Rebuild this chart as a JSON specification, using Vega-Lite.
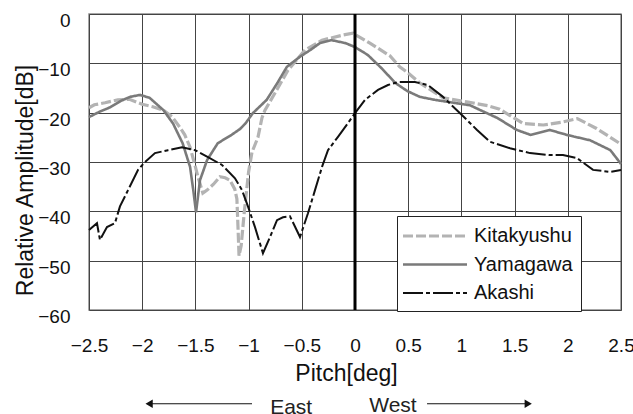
{
  "$schema": "https://vega.github.io/schema/vega-lite/v6.json",
  "width": 532,
  "height": 296,
  "autosize": "none",
  "padding": {"left": 89, "top": 14, "right": 12, "bottom": 104},
  "background": "white",
  "layer": [
    {
      "data": {
        "values": [
          {"site": "Kitakyushu", "pitch": -2.5, "amp": -19.0},
          {"site": "Kitakyushu", "pitch": -2.45, "amp": -18.4},
          {"site": "Kitakyushu", "pitch": -2.35, "amp": -18.0},
          {"site": "Kitakyushu", "pitch": -2.23, "amp": -17.4},
          {"site": "Kitakyushu", "pitch": -2.12, "amp": -17.3},
          {"site": "Kitakyushu", "pitch": -2.0, "amp": -18.3},
          {"site": "Kitakyushu", "pitch": -1.9, "amp": -18.8},
          {"site": "Kitakyushu", "pitch": -1.8, "amp": -19.5},
          {"site": "Kitakyushu", "pitch": -1.72, "amp": -20.8},
          {"site": "Kitakyushu", "pitch": -1.645, "amp": -23.0},
          {"site": "Kitakyushu", "pitch": -1.6, "amp": -24.5},
          {"site": "Kitakyushu", "pitch": -1.55, "amp": -27.0},
          {"site": "Kitakyushu", "pitch": -1.5, "amp": -31.0},
          {"site": "Kitakyushu", "pitch": -1.476, "amp": -33.0},
          {"site": "Kitakyushu", "pitch": -1.43, "amp": -36.3},
          {"site": "Kitakyushu", "pitch": -1.39, "amp": -35.7},
          {"site": "Kitakyushu", "pitch": -1.33, "amp": -34.5},
          {"site": "Kitakyushu", "pitch": -1.27, "amp": -33.0},
          {"site": "Kitakyushu", "pitch": -1.22, "amp": -33.2},
          {"site": "Kitakyushu", "pitch": -1.175, "amp": -33.7},
          {"site": "Kitakyushu", "pitch": -1.13, "amp": -35.5},
          {"site": "Kitakyushu", "pitch": -1.11, "amp": -37.5},
          {"site": "Kitakyushu", "pitch": -1.1, "amp": -43.0},
          {"site": "Kitakyushu", "pitch": -1.09, "amp": -49.0},
          {"site": "Kitakyushu", "pitch": -1.07, "amp": -47.0},
          {"site": "Kitakyushu", "pitch": -1.04, "amp": -40.0},
          {"site": "Kitakyushu", "pitch": -1.0, "amp": -32.0},
          {"site": "Kitakyushu", "pitch": -0.968, "amp": -28.0},
          {"site": "Kitakyushu", "pitch": -0.912, "amp": -25.0},
          {"site": "Kitakyushu", "pitch": -0.874, "amp": -21.0},
          {"site": "Kitakyushu", "pitch": -0.846, "amp": -19.5},
          {"site": "Kitakyushu", "pitch": -0.752, "amp": -16.0},
          {"site": "Kitakyushu", "pitch": -0.63, "amp": -11.4},
          {"site": "Kitakyushu", "pitch": -0.47, "amp": -7.3},
          {"site": "Kitakyushu", "pitch": -0.31, "amp": -5.3},
          {"site": "Kitakyushu", "pitch": -0.12, "amp": -4.3},
          {"site": "Kitakyushu", "pitch": -0.02, "amp": -3.9},
          {"site": "Kitakyushu", "pitch": 0.14, "amp": -5.9},
          {"site": "Kitakyushu", "pitch": 0.33, "amp": -8.5},
          {"site": "Kitakyushu", "pitch": 0.42, "amp": -10.7},
          {"site": "Kitakyushu", "pitch": 0.49, "amp": -11.8},
          {"site": "Kitakyushu", "pitch": 0.61, "amp": -14.0},
          {"site": "Kitakyushu", "pitch": 0.83, "amp": -17.0},
          {"site": "Kitakyushu", "pitch": 1.05, "amp": -17.8},
          {"site": "Kitakyushu", "pitch": 1.25, "amp": -18.6},
          {"site": "Kitakyushu", "pitch": 1.36, "amp": -19.3},
          {"site": "Kitakyushu", "pitch": 1.58, "amp": -22.2},
          {"site": "Kitakyushu", "pitch": 1.77, "amp": -22.5},
          {"site": "Kitakyushu", "pitch": 1.95, "amp": -21.9},
          {"site": "Kitakyushu", "pitch": 2.09, "amp": -21.2},
          {"site": "Kitakyushu", "pitch": 2.27, "amp": -23.2},
          {"site": "Kitakyushu", "pitch": 2.5, "amp": -26.4},

          {"site": "Yamagawa", "pitch": -2.5, "amp": -20.9},
          {"site": "Yamagawa", "pitch": -2.4, "amp": -19.8},
          {"site": "Yamagawa", "pitch": -2.3, "amp": -18.9},
          {"site": "Yamagawa", "pitch": -2.2, "amp": -17.6},
          {"site": "Yamagawa", "pitch": -2.115, "amp": -16.8},
          {"site": "Yamagawa", "pitch": -2.02, "amp": -16.4},
          {"site": "Yamagawa", "pitch": -1.93, "amp": -17.0},
          {"site": "Yamagawa", "pitch": -1.8, "amp": -19.5},
          {"site": "Yamagawa", "pitch": -1.71, "amp": -22.2},
          {"site": "Yamagawa", "pitch": -1.62, "amp": -26.2},
          {"site": "Yamagawa", "pitch": -1.55, "amp": -31.0},
          {"site": "Yamagawa", "pitch": -1.52, "amp": -35.7},
          {"site": "Yamagawa", "pitch": -1.494, "amp": -40.2},
          {"site": "Yamagawa", "pitch": -1.457, "amp": -33.7},
          {"site": "Yamagawa", "pitch": -1.39, "amp": -29.6},
          {"site": "Yamagawa", "pitch": -1.29, "amp": -26.2},
          {"site": "Yamagawa", "pitch": -1.16, "amp": -24.5},
          {"site": "Yamagawa", "pitch": -1.08, "amp": -23.3},
          {"site": "Yamagawa", "pitch": -1.03, "amp": -22.2},
          {"site": "Yamagawa", "pitch": -0.96, "amp": -20.1},
          {"site": "Yamagawa", "pitch": -0.83, "amp": -17.4},
          {"site": "Yamagawa", "pitch": -0.73, "amp": -14.0},
          {"site": "Yamagawa", "pitch": -0.64, "amp": -10.7},
          {"site": "Yamagawa", "pitch": -0.52, "amp": -8.7},
          {"site": "Yamagawa", "pitch": -0.42, "amp": -7.3},
          {"site": "Yamagawa", "pitch": -0.33, "amp": -5.9},
          {"site": "Yamagawa", "pitch": -0.22, "amp": -5.3},
          {"site": "Yamagawa", "pitch": -0.09, "amp": -5.9},
          {"site": "Yamagawa", "pitch": 0.0, "amp": -6.7},
          {"site": "Yamagawa", "pitch": 0.12, "amp": -8.3},
          {"site": "Yamagawa", "pitch": 0.25, "amp": -11.0},
          {"site": "Yamagawa", "pitch": 0.38, "amp": -14.0},
          {"site": "Yamagawa", "pitch": 0.49, "amp": -15.6},
          {"site": "Yamagawa", "pitch": 0.61, "amp": -16.8},
          {"site": "Yamagawa", "pitch": 0.75, "amp": -17.4},
          {"site": "Yamagawa", "pitch": 1.08, "amp": -18.5},
          {"site": "Yamagawa", "pitch": 1.34, "amp": -21.1},
          {"site": "Yamagawa", "pitch": 1.52, "amp": -23.5},
          {"site": "Yamagawa", "pitch": 1.65, "amp": -24.5},
          {"site": "Yamagawa", "pitch": 1.83, "amp": -23.5},
          {"site": "Yamagawa", "pitch": 1.99, "amp": -24.5},
          {"site": "Yamagawa", "pitch": 2.21, "amp": -25.6},
          {"site": "Yamagawa", "pitch": 2.4, "amp": -27.6},
          {"site": "Yamagawa", "pitch": 2.5, "amp": -30.4},

          {"site": "Akashi", "pitch": -2.5, "amp": -43.8},
          {"site": "Akashi", "pitch": -2.425, "amp": -42.4},
          {"site": "Akashi", "pitch": -2.397, "amp": -45.8},
          {"site": "Akashi", "pitch": -2.331, "amp": -43.2},
          {"site": "Akashi", "pitch": -2.256, "amp": -42.4},
          {"site": "Akashi", "pitch": -2.209, "amp": -39.0},
          {"site": "Akashi", "pitch": -2.133, "amp": -35.7},
          {"site": "Akashi", "pitch": -2.039, "amp": -31.6},
          {"site": "Akashi", "pitch": -1.974, "amp": -30.0},
          {"site": "Akashi", "pitch": -1.88, "amp": -28.2},
          {"site": "Akashi", "pitch": -1.758, "amp": -27.6},
          {"site": "Akashi", "pitch": -1.626, "amp": -27.0},
          {"site": "Akashi", "pitch": -1.504, "amp": -27.6},
          {"site": "Akashi", "pitch": -1.382, "amp": -29.0},
          {"site": "Akashi", "pitch": -1.25, "amp": -30.6},
          {"site": "Akashi", "pitch": -1.128, "amp": -33.3},
          {"site": "Akashi", "pitch": -1.062, "amp": -35.7},
          {"site": "Akashi", "pitch": -1.006, "amp": -39.0},
          {"site": "Akashi", "pitch": -0.94, "amp": -43.2},
          {"site": "Akashi", "pitch": -0.865, "amp": -48.5},
          {"site": "Akashi", "pitch": -0.799, "amp": -45.2},
          {"site": "Akashi", "pitch": -0.733, "amp": -41.8},
          {"site": "Akashi", "pitch": -0.677, "amp": -41.2},
          {"site": "Akashi", "pitch": -0.611, "amp": -41.0},
          {"site": "Akashi", "pitch": -0.517, "amp": -45.2},
          {"site": "Akashi", "pitch": -0.442, "amp": -40.4},
          {"site": "Akashi", "pitch": -0.376, "amp": -35.7},
          {"site": "Akashi", "pitch": -0.31, "amp": -31.0},
          {"site": "Akashi", "pitch": -0.254, "amp": -27.6},
          {"site": "Akashi", "pitch": -0.16, "amp": -24.9},
          {"site": "Akashi", "pitch": -0.066, "amp": -22.1},
          {"site": "Akashi", "pitch": 0.0, "amp": -20.1},
          {"site": "Akashi", "pitch": 0.094, "amp": -17.4},
          {"site": "Akashi", "pitch": 0.216, "amp": -15.4},
          {"site": "Akashi", "pitch": 0.31, "amp": -14.4},
          {"site": "Akashi", "pitch": 0.404, "amp": -13.8},
          {"site": "Akashi", "pitch": 0.564, "amp": -13.8},
          {"site": "Akashi", "pitch": 0.686, "amp": -14.4},
          {"site": "Akashi", "pitch": 0.827, "amp": -16.8},
          {"site": "Akashi", "pitch": 0.987, "amp": -20.1},
          {"site": "Akashi", "pitch": 1.147, "amp": -23.5},
          {"site": "Akashi", "pitch": 1.269, "amp": -25.9},
          {"site": "Akashi", "pitch": 1.457, "amp": -27.2},
          {"site": "Akashi", "pitch": 1.645, "amp": -28.2},
          {"site": "Akashi", "pitch": 1.833, "amp": -28.6},
          {"site": "Akashi", "pitch": 1.955, "amp": -28.6},
          {"site": "Akashi", "pitch": 2.086, "amp": -29.2},
          {"site": "Akashi", "pitch": 2.237, "amp": -31.6},
          {"site": "Akashi", "pitch": 2.397, "amp": -32.0},
          {"site": "Akashi", "pitch": 2.5, "amp": -31.6}
        ]
      },
      "mark": {"type": "line", "interpolate": "linear", "strokeCap": "butt"},
      "encoding": {
        "x": {
          "field": "pitch",
          "type": "quantitative",
          "scale": {"domain": [-2.5, 2.5], "nice": false, "zero": false},
          "axis": {
            "title": "Pitch[deg]",
            "values": [-2.5, -2, -1.5, -1, -0.5, 0, 0.5, 1, 1.5, 2, 2.5],
            "format": "~g",
            "labelBaseline": "alphabetic",
            "labelPadding": 41,
            "labelFlush": false,
            "labelOverlap": false,
            "titleBaseline": "alphabetic",
            "titleX": 257,
            "titleY": 70
          }
        },
        "y": {
          "field": "amp",
          "type": "quantitative",
          "scale": {"domain": [-60, 0], "nice": false, "zero": false},
          "axis": {
            "title": "Relative Amplitude[dB]",
            "values": [-60, -50, -40, -30, -20, -10, 0],
            "format": "d",
            "labelBaseline": "alphabetic",
            "labelOffset": 12.5,
            "labelPadding": 19,
            "labelFlush": false,
            "labelOverlap": false,
            "titleBaseline": "alphabetic",
            "titleAngle": -90,
            "titleX": -57,
            "titleY": 166
          }
        },
        "color": {
          "field": "site",
          "type": "nominal",
          "scale": {"domain": ["Kitakyushu", "Yamagawa", "Akashi"], "range": ["#b3b3b3", "#7a7a7a", "#111111"]},
          "legend": {"title": null}
        },
        "strokeDash": {
          "field": "site",
          "type": "nominal",
          "scale": {"domain": ["Kitakyushu", "Yamagawa", "Akashi"], "range": [[10, 3], [1, 0], [20, 3, 4, 3]]},
          "legend": {"title": null}
        },
        "strokeWidth": {
          "field": "site",
          "type": "nominal",
          "scale": {"domain": ["Kitakyushu", "Yamagawa", "Akashi"], "range": [3.2, 2, 2.6]},
          "legend": {"title": null}
        }
      }
    },
    {
      "data": {"values": [{"pitch": 0}]},
      "mark": {"type": "rule", "color": "#000000", "strokeWidth": 3},
      "encoding": {"x": {"field": "pitch", "type": "quantitative"}}
    },
    {
      "data": {"values": [{}]},
      "mark": {"type": "rule", "color": "#111111", "strokeWidth": 1.2},
      "encoding": {"x": {"datum": -1.95}, "x2": {"datum": -0.968}, "y": {"datum": -79}}
    },
    {
      "data": {"values": [{}]},
      "mark": {"type": "rule", "color": "#111111", "strokeWidth": 1.2},
      "encoding": {"x": {"datum": 0.677}, "x2": {"datum": 1.64}, "y": {"datum": -79}}
    },
    {
      "data": {"values": [{}]},
      "mark": {"type": "point", "shape": "triangle-left", "filled": true, "color": "#111111", "opacity": 1, "size": 70},
      "encoding": {"x": {"datum": -1.935}, "y": {"datum": -79}}
    },
    {
      "data": {"values": [{}]},
      "mark": {"type": "point", "shape": "triangle-right", "filled": true, "color": "#111111", "opacity": 1, "size": 70},
      "encoding": {"x": {"datum": 1.628}, "y": {"datum": -79}}
    },
    {
      "data": {"values": [{}]},
      "mark": {"type": "text", "text": "East", "font": "Liberation Sans", "fontSize": 21, "color": "#222222", "align": "center", "baseline": "alphabetic"},
      "encoding": {"x": {"datum": -0.6}, "y": {"datum": -81.1}}
    },
    {
      "data": {"values": [{}]},
      "mark": {"type": "text", "text": "West", "font": "Liberation Sans", "fontSize": 21, "color": "#222222", "align": "center", "baseline": "alphabetic"},
      "encoding": {"x": {"datum": 0.357}, "y": {"datum": -80.7}}
    }
  ],
  "config": {
    "view": {"stroke": "#8a8a8a", "strokeWidth": 1.5},
    "axis": {
      "domain": false,
      "ticks": false,
      "tickSize": 0,
      "grid": true,
      "gridColor": "#444444",
      "gridOpacity": 1,
      "gridWidth": 1,
      "labelFont": "Liberation Sans",
      "labelFontSize": 19,
      "labelColor": "#111111",
      "titleFont": "Liberation Sans",
      "titleFontSize": 23,
      "titleFontWeight": "normal",
      "titleColor": "#111111"
    },
    "legend": {
      "orient": "none",
      "legendX": 308,
      "legendY": 202,
      "strokeColor": "#222222",
      "fillColor": "#ffffff",
      "padding": 8,
      "symbolType": "M-1.4,0H5",
      "symbolSize": 400,
      "labelFont": "Liberation Sans",
      "labelFontSize": 20,
      "labelColor": "#111111",
      "labelOffset": 45,
      "rowPadding": 7
    }
  }
}
